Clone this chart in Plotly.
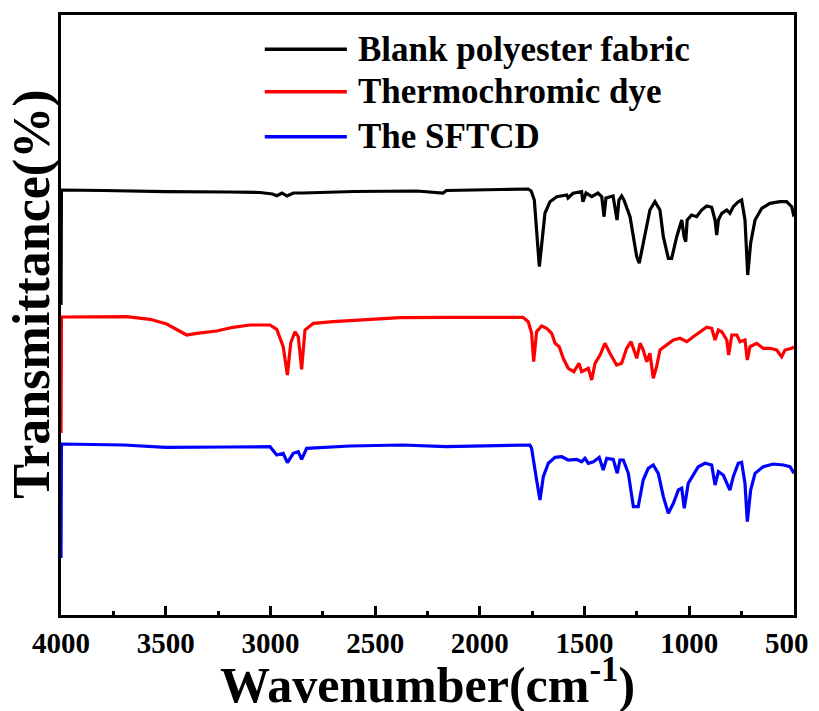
import plotly.graph_objects as go

# ---- Data (wavenumber cm-1, offset transmittance in arbitrary units) ----
blank_wn = [4000, 3998, 3800, 3500, 3200, 3050, 2990, 2969, 2945, 2921, 2890, 2845, 2600, 2300, 2176, 2160,
            1900, 1770, 1755, 1740, 1716, 1689, 1665, 1633, 1585, 1579, 1555, 1514, 1508, 1493, 1466, 1436,
            1418, 1407, 1398, 1364, 1345, 1336, 1323, 1312, 1283, 1251, 1239, 1220, 1188, 1164, 1140, 1124,
            1100, 1084, 1060, 1036, 1025, 1017, 1010, 989, 965, 941, 917, 893, 877, 869, 861, 845, 821, 806,
            790, 766, 750, 734, 721, 707, 686, 654, 615, 567, 535, 511, 500]
blank_t = [310, 425, 424.5, 423.3, 423, 422.5, 421, 419.3, 422, 419, 422, 422, 423.5, 424, 422, 424.5,
           425.5, 426, 424, 415, 348.3, 402, 413.3, 418.3, 420, 417, 421.7, 423.3, 413.3, 422, 418.3, 422,
           418.3, 398.3, 417, 419, 395, 415, 419, 415, 398.3, 358.3, 351.7, 372, 405, 413.3, 405, 378.3,
           356.7, 356.7, 378.3, 395, 378.3, 373.3, 395, 400, 398.3, 405, 409, 407.7, 395, 380, 395, 401.7, 405, 401.7,
           408.3, 413.3, 415, 395, 340, 372, 395, 406.7, 411.7, 413.3, 413.3, 408.3, 398.3]

dye_wn = [4000, 3998, 3686, 3575, 3495, 3448, 3400, 3352, 3257, 3179, 3098, 3002, 2970, 2939, 2919, 2903,
          2883, 2867, 2851, 2835, 2795, 2700, 2381, 2143, 1794, 1769, 1753, 1743, 1729, 1705, 1681, 1657,
          1641, 1621, 1602, 1578, 1551, 1527, 1514, 1498, 1482, 1466, 1450, 1426, 1403, 1379, 1347, 1323,
          1299, 1278, 1267, 1251, 1235, 1220, 1203, 1188, 1172, 1156, 1140, 1108, 1076, 1044, 1012, 981,
          949, 917, 893, 877, 861, 845, 821, 812, 797, 773, 758, 734, 723, 710, 678, 647, 615, 583, 559,
          543, 511, 500]
dye_t = [182, 298, 298.3, 295.7, 291, 285.7, 280, 281.7, 284, 287.7, 290, 290, 285.7, 268.3, 240, 272,
         283.3, 278.3, 245.7, 285, 291.7, 293.3, 297.3, 297.7, 297.7, 293.3, 282, 253.3, 283.3, 289, 286.7, 281.7,
         271.7, 268.3, 256.7, 246.7, 243.3, 251.7, 243.3, 245, 246.7, 235, 251.7, 260, 271.7, 261.7, 250, 251.7,
         266.7, 273.3, 266.7, 256.7, 271.7, 265, 253.3, 261.7, 236.7, 248.3, 265, 270, 275, 276.7, 273.3, 278.3,
         283.3, 287.7, 286.7, 275, 285, 283.3, 275, 260, 280, 280, 273.3, 275, 255, 268.3, 271.7, 266.7, 266.7, 265, 258.3,
         265, 266.7, 268.3]

sftcd_wn = [4000, 3998, 3700, 3500, 3200, 3002, 2970, 2939, 2919, 2891, 2867, 2851, 2827, 2620, 2370, 2160,
            1761, 1753, 1729, 1713, 1697, 1673, 1641, 1609, 1578, 1538, 1514, 1498, 1482, 1458, 1430, 1411,
            1394, 1363, 1344, 1331, 1315, 1291, 1267, 1244, 1220, 1196, 1172, 1148, 1124, 1100, 1076, 1052,
            1036, 1024, 1005, 981, 957, 925, 893, 877, 861, 838, 806, 790, 766, 750, 734, 723, 707, 686, 647,
            599, 551, 519, 500]
sftcd_t = [57, 171, 170, 167.7, 168, 168.3, 160, 161.7, 152.3, 161.7, 163.3, 155.7, 166.7, 169, 170, 168.3,
           170, 166.7, 135, 115, 138.3, 151.7, 157.7, 158.3, 155, 155.7, 153.3, 156.7, 151.7, 153.3, 157.7, 145,
           156.7, 155.7, 141.7, 155, 155, 141.7, 108.3, 108.3, 135, 146.7, 150, 141.7, 118.3, 101.7, 111.7, 125,
           126.7, 106.7, 131.7, 140, 148.3, 151.7, 150, 130, 143.3, 140, 125, 138.3, 151.7, 152.7, 131.7, 93.3, 125, 141.7, 148.3,
           151, 150, 148.3, 141.7]

series_names = ["Blank polyester fabric", "Thermochromic dye", "The SFTCD"]
series_colors = ["#000000", "#ff0000", "#0000ff"]
x_tick_vals = [4000, 3500, 3000, 2500, 2000, 1500, 1000, 500]
x_tick_text = ["4000", "3500", "3000", "2500", "2000", "1500", "1000", "500"]
x_minor_vals = [3750, 3250, 2750, 2250, 1750, 1250, 750]
x_title = "Wavenumber(cm<sup>-1</sup>)"
y_title = "Transmittance(%)"

FONT = "Liberation Serif"

fig = go.Figure()
for wn, t, name, col in zip([blank_wn, dye_wn, sftcd_wn], [blank_t, dye_t, sftcd_t], series_names, series_colors):
    fig.add_trace(go.Scatter(x=wn, y=t, mode="lines", name=name,
                             line=dict(color=col, width=3.2), showlegend=False))

# legend drawn with long line samples, as in the original
legend_y = [0.943, 0.872, 0.797]
for name, col, ly in zip(series_names, series_colors, legend_y):
    fig.add_shape(type="line", xref="paper", yref="paper", x0=0.278, x1=0.390, y0=ly, y1=ly,
                  line=dict(color=col, width=3.5))
    fig.add_annotation(xref="paper", yref="paper", x=0.4025, y=ly, text="<b>%s</b>" % name,
                       showarrow=False, xanchor="left", yanchor="middle",
                       font=dict(family=FONT, size=35, color="black"))

# axis titles
fig.add_annotation(xref="paper", yref="paper", x=0.5, y=-0.055, text="<b>%s</b>" % x_title,
                   showarrow=False, xanchor="center", yanchor="top",
                   font=dict(family=FONT, size=50, color="black"))
fig.add_annotation(xref="paper", yref="paper", x=-0.040, y=0.535, text="<b>%s</b>" % y_title,
                   showarrow=False, xanchor="center", yanchor="middle", textangle=-90,
                   font=dict(family=FONT, size=52, color="black"))

# last tick label sits a little left of its tick (as in the original, to stay inside the frame)
tick_labels = ["<b>%s</b>" % s for s in x_tick_text]
tick_labels[-1] = "<b>500</b>&nbsp;&nbsp;"

# the page body keeps the browser's 8px margin, so the figure is 8px smaller
fig.update_layout(
    width=811, height=703,
    margin=dict(l=53, r=25, t=7, b=96),
    paper_bgcolor="white", plot_bgcolor="white",
    font=dict(family=FONT, color="black"),
)
fig.update_xaxes(
    range=[4000, 500], showgrid=False, zeroline=False, automargin=False,
    showline=True, linewidth=3, linecolor="black", mirror=True,
    ticks="inside", ticklen=9, tickwidth=2.5, tickcolor="black",
    tickvals=x_tick_vals, ticktext=tick_labels, ticklabeloverflow="allow",
    tickfont=dict(family=FONT, size=29, color="black"),
    minor=dict(tickvals=x_minor_vals, ticks="inside", ticklen=4,
               tickwidth=2.5, tickcolor="black"),
)
fig.update_yaxes(
    range=[0, 600], showgrid=False, zeroline=False, automargin=False,
    showline=True, linewidth=3, linecolor="black", mirror=True,
    ticks="", showticklabels=False,
)

fig.write_html("out.html")
